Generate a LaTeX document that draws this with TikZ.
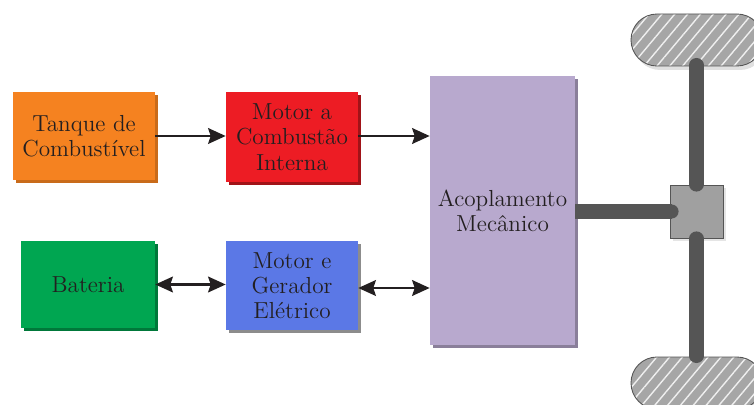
\documentclass[tikz,border=0pt]{standalone}
\usetikzlibrary{arrows.meta,patterns.meta,shadows}
\definecolor{ink}{HTML}{231F20}
\definecolor{tankorange}{HTML}{F58220}
\definecolor{enginered}{HTML}{ED1C24}
\definecolor{battgreen}{HTML}{00A651}
\definecolor{motorblue}{HTML}{5B78E6}
\definecolor{couplelav}{HTML}{B8A9CE}
\definecolor{shaftgray}{HTML}{555555}
\definecolor{hubgray}{HTML}{A0A0A0}
\definecolor{wheelgray}{HTML}{A6A6A6}
\begin{document}
\begin{tikzpicture}[x=0.02cm,y=-0.02cm,
  font=\fontsize{13.2}{14.4}\selectfont,
  blockbox/.style={rectangle, draw=none, align=center, text=ink, inner sep=2pt,
    copy shadow={shadow xshift=0.06cm, shadow yshift=-0.06cm, fill=#1, draw=none}},
  tip/.tip={Stealth[length=10pt,width=9pt,inset=1.5pt]},
  flow/.style={draw=ink, line width=1.3pt, -tip},
  biflow/.style={draw=ink, line width=1.3pt, tip-tip},
  shaft/.style={draw=shaftgray, line width=8pt, line cap=round},
  wheel/.style={draw=shaftgray, line width=0.5pt, rounded corners=0.52cm,
    preaction={fill=wheelgray},
    pattern={Lines[angle=50,distance=5.6pt,line width=0.8pt]}, pattern color=white!82!wheelgray},
  wheelshadow/.style={fill=black!12, draw=none, rounded corners=0.52cm}
]
\useasboundingbox (0,0) rectangle (754,405);

% blocks of the power train
\node[blockbox=tankorange!82!black, fill=tankorange, minimum width=2.84cm, minimum height=1.76cm]
  (tank) at (84,136) {Tanque de\\Combustível};
\node[blockbox=enginered!68!black, fill=enginered, minimum width=2.64cm, minimum height=1.8cm]
  (ice) at (292,137) {Motor a\\Combustão\\Interna};
\node[blockbox=battgreen!72!black, fill=battgreen, minimum width=2.68cm, minimum height=1.74cm]
  (batt) at (88,284.5) {Bateria};
\node[blockbox=black!45, fill=motorblue, minimum width=2.64cm, minimum height=1.78cm]
  (emotor) at (292,285.5) {Motor e\\Gerador\\Elétrico};
\node[blockbox=couplelav!75!black, fill=couplelav, minimum width=2.9cm, minimum height=5.38cm]
  (couple) at (502.5,210.5) {Acoplamento\\Mecânico};

% energy flow
\draw[flow] (tank.east) -- (ice.west |- tank.east);
\draw[flow] (ice.east) ++(0,-1) coordinate (ic) (ic) -- (couple.west |- ic);
\draw[biflow] (batt.east) -- (emotor.west |- batt.east);
\draw[biflow] (emotor.east) ++(0,2.5) coordinate (em) (em) -- (couple.west |- em);

% wheels
\fill[wheelshadow] (634,18) rectangle (766,70);
\draw[wheel] (631,14) rectangle (763,66);
\fill[wheelshadow] (634,361) rectangle (766,413);
\draw[wheel] (631,357) rectangle (763,409);

% differential hub
\node[rectangle, fill=hubgray, draw=shaftgray, line width=0.5pt,
  minimum width=1.06cm, minimum height=1.06cm,
  copy shadow={shadow xshift=0.06cm, shadow yshift=-0.06cm, fill=black!10, draw=none}]
  (hub) at (696.5,211.5) {};

% shafts
\coordinate (axtop) at (696.5,65);
\coordinate (axbot) at (696.5,356);
\coordinate (shend) at ([xshift=0.04cm]hub.west);
\draw[shaft, line cap=butt] (couple.east |- hub) -- (shend);
\fill[shaftgray] (shend) circle (4pt);
\draw[shaft] (axtop) -- (hub.north);
\draw[shaft] (hub.south) -- (axbot);
\end{tikzpicture}
\end{document}
